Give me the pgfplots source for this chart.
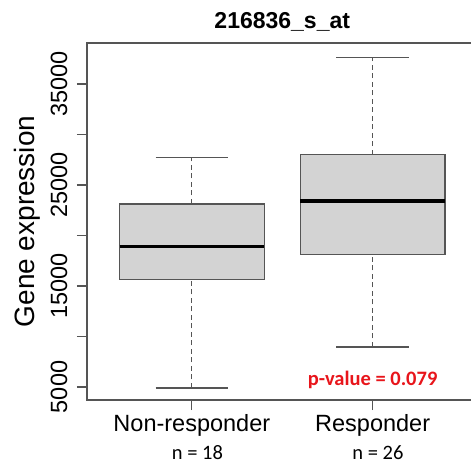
\documentclass[border=0pt]{standalone}
\usepackage{pgfplots}
\pgfplotsset{compat=1.18}
\usepackage{fontspec}
\setmainfont{Liberation Sans}
\newfontfamily\calibri{Carlito}

\definecolor{boxfill}{HTML}{D3D3D3}
\definecolor{framegray}{HTML}{555555}
\definecolor{pred}{HTML}{E8151B}

\pgfplotsset{
  whiskerline/.style={draw=framegray, line width=1.1pt, dash pattern=on 5pt off 3.5pt, forget plot},
  whiskercap/.style={draw=framegray, line width=1.2pt, solid, forget plot},
  boxbody/.style={fill=boxfill, draw=framegray, line width=1.2pt, forget plot},
  boxmedian/.style={draw=black, line width=3.5pt, forget plot},
}

\begin{document}
\begin{tikzpicture}
\path[use as bounding box, clip] (-87pt,-66pt) rectangle (384pt,400pt);
\begin{axis}[
  at={(0,0)}, anchor=south west,
  scale only axis, width=390.5pt, height=357pt,
  xmin=0.42, xmax=2.58, ymin=3710, ymax=39060,
  clip=false,
  axis line style={framegray, line width=1.2pt},
  xtick={1,2}, xticklabels={Non-responder,Responder},
  ytick={5000,10000,15000,20000,25000,30000,35000},
  yticklabels={5000,,15000,,25000,,35000},
  scaled y ticks=false,
  xtick pos=bottom, ytick pos=left,
  tick align=outside, major tick length=10pt,
  tick style={framegray, line width=1.2pt},
  ticklabel style={font=\fontsize{23.5}{28}\selectfont},
  yticklabel style={rotate=90, anchor=south, inner xsep=0pt, inner ysep=9.5pt},
  xticklabel style={anchor=north, inner xsep=0pt, inner ysep=4.5pt},
  every axis y label/.style={at={(axis description cs:-0.1332,0.5)}, rotate=90, anchor=base,
    font=\fontsize{28}{32}\selectfont},
  ylabel={Gene expression},
  every axis title/.style={at={(axis description cs:0.5,1)}, anchor=base, yshift=14.7pt,
    font=\fontsize{23}{28}\selectfont\bfseries},
  title={216836\_s\_at},
]
% Non-responder: whiskers 4900 / 27740, quartiles 15660 / 23120, median 18890
\addplot[whiskerline] coordinates {(1,4900) (1,15660)};
\addplot[whiskerline] coordinates {(1,23120) (1,27740)};
\addplot[whiskercap] coordinates {(0.8,4900) (1.2,4900)};
\addplot[whiskercap] coordinates {(0.8,27740) (1.2,27740)};
\addplot[boxbody] coordinates {(0.6,15660) (1.4,15660) (1.4,23120) (0.6,23120)} -- cycle;
\addplot[boxmedian] coordinates {(0.6,18890) (1.4,18890)};
% Responder: whiskers 8960 / 37640, quartiles 18140 / 28000, median 23420
\addplot[whiskerline] coordinates {(2,8960) (2,18140)};
\addplot[whiskerline] coordinates {(2,28000) (2,37640)};
\addplot[whiskercap] coordinates {(1.8,8960) (2.2,8960)};
\addplot[whiskercap] coordinates {(1.8,37640) (2.2,37640)};
\addplot[boxbody] coordinates {(1.6,18140) (2.4,18140) (2.4,28000) (1.6,28000)} -- cycle;
\addplot[boxmedian] coordinates {(1.6,23420) (2.4,23420)};

\node[anchor=base, text=pred, font=\calibri\bfseries\fontsize{20.5}{24}\selectfont]
  at (axis cs:2.0,5100) {p-value = 0.079};
\end{axis}
\node[anchor=base, font=\calibri\fontsize{20.5}{24}\selectfont] at (110.5pt,-59.3pt) {n = 18};
\node[anchor=base, font=\calibri\fontsize{20.5}{24}\selectfont] at (291pt,-59.3pt) {n = 26};
\end{tikzpicture}
\end{document}
